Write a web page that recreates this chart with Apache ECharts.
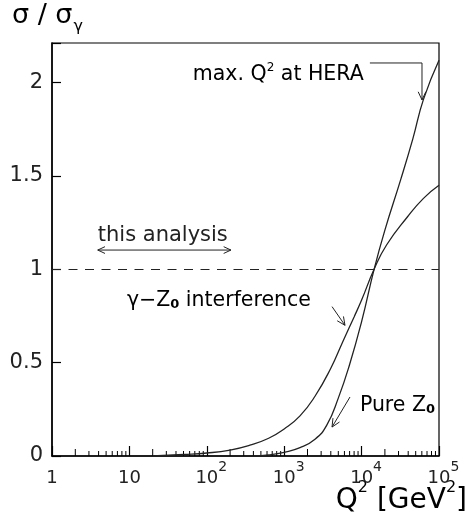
<!DOCTYPE html>
<html>
<head>
<meta charset="utf-8">
<script src="https://cdn.jsdelivr.net/npm/echarts@6/dist/echarts.min.js"></script>
<style>
html,body{margin:0;padding:0;background:#fff;}
#c{width:469px;height:520px;}
</style>
</head>
<body>
<div id="c"></div>
<script>
// ---- data ----
const q2Interf  = [20, 50, 100, 200, 360, 630, 1000, 1600, 2500, 4000, 5750, 8000, 10000, 14500, 21000, 39000, 63000, 100000];
const sigInterf = [0, 0.008, 0.016, 0.032, 0.058, 0.095, 0.145, 0.215, 0.32, 0.47, 0.615, 0.745, 0.835, 1.0, 1.13, 1.28, 1.38, 1.45];
const q2Pure    = [400, 630, 1000, 1600, 2500, 3550, 5000, 7000, 10000, 14500, 20000, 32000, 46000, 63000, 100000];
const sigPure   = [0, 0.006, 0.02, 0.045, 0.09, 0.165, 0.31, 0.49, 0.72, 1.0, 1.21, 1.48, 1.70, 1.91, 2.12];
const refLevel  = 1;
const xExponents = [0, 1, 2, 3, 4, 5];
const yTickLabels = ['0', '0.5', '1', '1.5', '2'];
const minorMultipliers = [2, 3, 4, 5, 6, 7, 8, 9];
const minorDecades = [1, 10, 100, 1000, 10000];

// annotations (data coordinates)
const annThisAnalysisText  = [27, 1.18];
const annThisAnalysisArrow = [[3.9, 1.103], [205, 1.103]];
const annInterfText  = [9.3, 0.836];
const annInterfArrow = [[4150, 0.80], [6100, 0.70]];
const annPureText    = [9500, 0.273];
const annPureArrow   = [[7080, 0.316], [4150, 0.155]];
const annHeraText    = [66, 2.045];
const annHeraArrow   = [[12800, 2.105], [60300, 2.105], [60300, 1.907]];

const minorTicks = [];
minorDecades.forEach(d => minorMultipliers.forEach(m => minorTicks.push([m * d, 0, m])));

const FONT = 'DejaVu Sans';
const INK = '#222';

const chart = echarts.init(document.getElementById('c'), null, {renderer: 'canvas'});

function arrowHead(tip, from, size) {
  const dx = tip[0] - from[0], dy = tip[1] - from[1];
  const L = Math.sqrt(dx*dx + dy*dy) || 1;
  const ux = dx / L, uy = dy / L;
  const a = 25 * Math.PI / 180;
  const c = Math.cos(a), s = Math.sin(a);
  const b1 = [tip[0] - size * (ux*c - uy*s), tip[1] - size * (uy*c + ux*s)];
  const b2 = [tip[0] - size * (ux*c + uy*s), tip[1] - size * (uy*c - ux*s)];
  return {type: 'polyline', shape: {points: [b1, tip, b2]}, style: {stroke: INK, lineWidth: 1, fill: null}};
}

const richBase = {
  n: {fontFamily: FONT, fontSize: 20.5, color: INK, verticalAlign: 'bottom', lineHeight: 22},
  sub: {fontFamily: FONT, fontSize: 13, color: INK, fontWeight: 'bold', verticalAlign: 'bottom', lineHeight: 15},
  sup: {fontFamily: FONT, fontSize: 12, color: INK, verticalAlign: 'bottom', lineHeight: 12, padding: [0, 0, 11, 0]}
};

const option = {
  backgroundColor: '#fff',
  animation: false,
  grid: {left: 52, right: 30, top: 43, bottom: 64, show: true, borderColor: '#000', borderWidth: 1.2, backgroundColor: 'transparent'},
  xAxis: {
    type: 'log', logBase: 10, min: 1, max: 100000, splitNumber: 5,
    axisLine: {onZero: false, lineStyle: {color: '#000', width: 1.5}},
    axisTick: {inside: true, length: 10, lineStyle: {color: '#000', width: 1.2}},
    splitLine: {show: false},
    axisLabel: {
      margin: 11,
      formatter: function (v) {
        const e = Math.round(Math.log10(v));
        if (xExponents.indexOf(e) < 0) return '';
        if (e === 0) return '{b|1}';
        if (e === 1) return '{b|10}';
        return '{sp|}{b|10}{s|' + e + '}';
      },
      rich: {
        b: {fontFamily: FONT, fontSize: 18, color: INK, verticalAlign: 'bottom', lineHeight: 20},
        s: {fontFamily: FONT, fontSize: 14, color: INK, verticalAlign: 'bottom', lineHeight: 14, padding: [0, 0, 13, 0]},
        sp: {width: 9}
      }
    }
  },
  yAxis: {
    type: 'value', min: 0, max: 2.212, interval: 0.5,
    axisLine: {onZero: false, lineStyle: {color: '#000', width: 1.5}},
    axisTick: {inside: true, length: 9, lineStyle: {color: '#000', width: 1.2}},
    splitLine: {show: false},
    axisLabel: {
      margin: 9, fontFamily: FONT, fontSize: 21, color: INK,
      formatter: function (v) {
        const s = (Math.round(v * 10) / 10).toString();
        return yTickLabels.indexOf(s) >= 0 ? s : '';
      }
    }
  },
  graphic: [
    {
      type: 'text', left: 12, top: 2,
      style: {
        text: '{a|σ / σ}{g|γ}',
        rich: {
          a: {fontFamily: FONT, fontSize: 27, color: INK, verticalAlign: 'bottom', lineHeight: 30, padding: [0, 0, 6, 0]},
          g: {fontFamily: FONT, fontSize: 16, color: INK, verticalAlign: 'bottom', lineHeight: 16, padding: [0, 0, 0, 1]}
        }
      }
    },
    {
      type: 'text', right: 2, top: 480,
      style: {
        text: '{a|Q}{s|2}{a| [GeV}{s|2}{a|]}',
        rich: {
          a: {fontFamily: FONT, fontSize: 28, color: INK, verticalAlign: 'bottom', lineHeight: 34},
          s: {fontFamily: FONT, fontSize: 16, color: INK, verticalAlign: 'bottom', lineHeight: 16, padding: [0, 0, 19, 0]}
        }
      }
    }
  ],
  series: [
    {
      name: 'Pure Z0', type: 'line',
      data: q2Pure.map((q, i) => [q, sigPure[i]]),
      showSymbol: false, smooth: 0.5,
      lineStyle: {color: INK, width: 1.3},
      markLine: {
        silent: true, symbol: 'none',
        label: {show: false},
        lineStyle: {color: INK, width: 1, type: [9, 7.5]},
        data: [{yAxis: refLevel}]
      }
    },
    {
      name: 'interference', type: 'line',
      data: q2Interf.map((q, i) => [q, sigInterf[i]]),
      showSymbol: false, smooth: 0.5,
      lineStyle: {color: INK, width: 1.3}
    },
    {
      name: 'minor ticks', type: 'custom',
      data: minorTicks,
      silent: true, clip: false,
      renderItem: function (params, api) {
        const p = api.coord([api.value(0), 0]);
        const len = api.value(2) === 2 ? 7 : 5;
        return {type: 'line', shape: {x1: p[0], y1: p[1], x2: p[0], y2: p[1] - len}, style: {stroke: '#000', lineWidth: 1}};
      }
    },
    {
      name: 'annotations', type: 'custom',
      data: [[1, 1]],
      silent: true, clip: false,
      renderItem: function (params, api) {
        const c = v => api.coord(v);
        const children = [];
        const ta = annThisAnalysisArrow.map(c);
        children.push({type: 'line', shape: {x1: ta[0][0], y1: ta[0][1], x2: ta[1][0], y2: ta[1][1]}, style: {stroke: INK, lineWidth: 1}});
        children.push(arrowHead(ta[0], ta[1], 8));
        children.push(arrowHead(ta[1], ta[0], 8));
        const tt = c(annThisAnalysisText);
        children.push({type: 'text', x: tt[0], y: tt[1], style: {text: 'this analysis', fontFamily: FONT, fontSize: 21, fill: INK, align: 'center', verticalAlign: 'middle'}});
        const it = c(annInterfText);
        children.push({type: 'text', x: it[0], y: it[1], style: {text: '{n|γ−Z}{sub|0}{n| interference}', rich: richBase, align: 'left', verticalAlign: 'middle'}});
        const ia = annInterfArrow.map(c);
        children.push({type: 'line', shape: {x1: ia[0][0], y1: ia[0][1], x2: ia[1][0], y2: ia[1][1]}, style: {stroke: INK, lineWidth: 1}});
        children.push(arrowHead(ia[1], ia[0], 9));
        const pt = c(annPureText);
        children.push({type: 'text', x: pt[0], y: pt[1], style: {text: '{n|Pure Z}{sub|0}', rich: richBase, align: 'left', verticalAlign: 'middle'}});
        const pa = annPureArrow.map(c);
        children.push({type: 'line', shape: {x1: pa[0][0], y1: pa[0][1], x2: pa[1][0], y2: pa[1][1]}, style: {stroke: INK, lineWidth: 1}});
        children.push(arrowHead(pa[1], pa[0], 9));
        const ht = c(annHeraText);
        children.push({type: 'text', x: ht[0], y: ht[1], style: {text: '{n|max. Q}{sup|2}{n| at HERA}', rich: richBase, align: 'left', verticalAlign: 'middle'}});
        const ha = annHeraArrow.map(c);
        children.push({type: 'polyline', shape: {points: ha}, style: {stroke: INK, lineWidth: 1, fill: null}});
        children.push(arrowHead(ha[2], ha[1], 9));
        return {type: 'group', children: children};
      }
    }
  ]
};
chart.setOption(option);
</script>
</body>
</html>
